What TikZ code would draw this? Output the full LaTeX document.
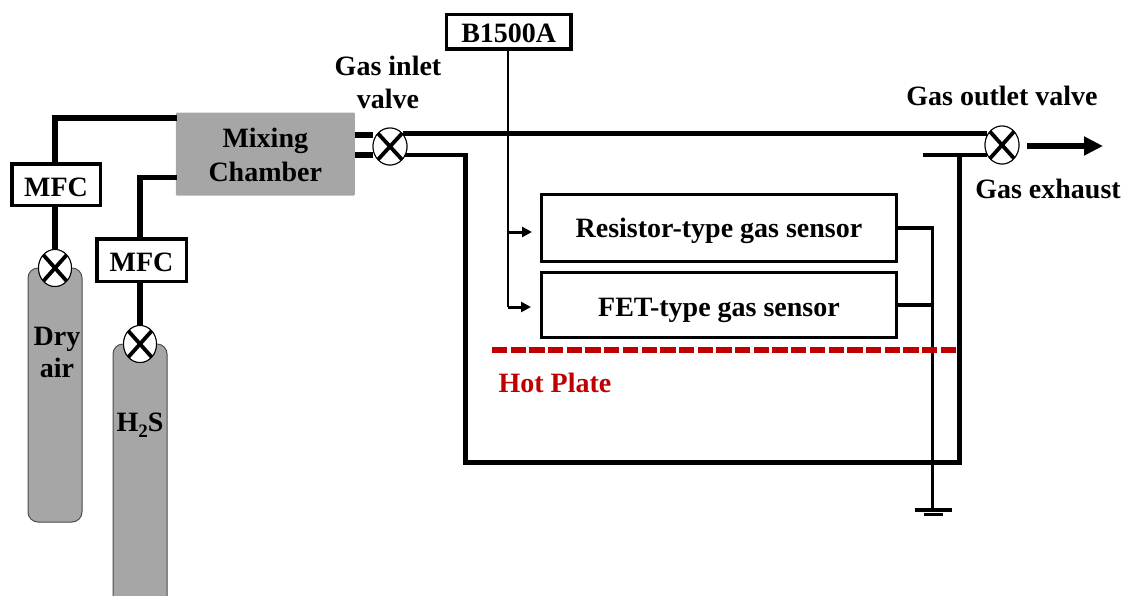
\documentclass[tikz,border=0pt]{standalone}
\usepackage{fontspec}
\setmainfont{Liberation Serif}
\usetikzlibrary{arrows.meta,shapes.geometric,calc}
\definecolor{gasgray}{HTML}{A6A6A6}
\definecolor{hotred}{HTML}{C00000}
\tikzset{
  x=1pt,y=-1pt,
  lbl/.style={font=\fontsize{28}{31}\selectfont\bfseries,align=center,inner sep=0pt,text=black},
  txtbox/.style={lbl,draw=black,line width=3.4pt,fill=white,minimum width=#1,inner sep=0pt},
  valve/.style={ellipse,draw=black,line width=1pt,fill=white,minimum width=33pt,minimum height=37pt,inner sep=0pt,
    path picture={
      \draw[line width=3.8pt,black] ($(path picture bounding box.north west)!0.13!(path picture bounding box.south east)$)--($(path picture bounding box.north west)!0.87!(path picture bounding box.south east)$);
      \draw[line width=3.8pt,black] ($(path picture bounding box.north east)!0.13!(path picture bounding box.south west)$)--($(path picture bounding box.north east)!0.87!(path picture bounding box.south west)$);
    }},
  pipe/.style={draw=black,line width=4.7pt,line join=miter},
  feedpipe/.style={draw=black,line width=5.4pt,line join=miter},
  wire/.style={draw=black,line width=3.2pt,line join=miter},
  thinwire/.style={draw=black,line width=2.7pt,line join=miter},
  cyl/.style={draw=black!70,line width=1pt,fill=gasgray,rounded corners=10pt},
  probe/.style={draw=black,line width=3pt,-{Triangle[length=10pt,width=10pt]}},
}
\begin{document}
\begin{tikzpicture}
\useasboundingbox (0,0) rectangle (1124,595);
% cylinders
\begin{scope}
\clip (0,0) rectangle (1124,595);
\draw[cyl] (28,268) rectangle (82,522);
\draw[cyl] (113,344) rectangle (167,610);
\end{scope}
\node[lbl] (dry) at (57,352) {Dry\\[1pt]air};
\node[lbl] (h2s) at (140,425) {H\raisebox{-6pt}{\fontsize{19}{19}\selectfont 2}S};
% chamber
\node[lbl,fill=gasgray,rounded corners=1pt,minimum width=179pt,minimum height=83pt] (mix) at (265.3,154) {\rule{0pt}{22pt}Mixing\\[3pt]Chamber};
% MFC
\node[txtbox=88.4pt,minimum height=41.4pt,text height=24pt] (mfc1) at (56,184.5) {MFC};
\node[txtbox=89.4pt,minimum height=42.4pt,text height=24pt] (mfc2) at (141.5,260) {MFC};
% valves
\node[valve] (v1) at (55,268) {};
\node[valve] (v2) at (140,344) {};
\node[valve,minimum width=34pt,minimum height=37pt] (vin) at (390,146.5) {};
\node[valve,minimum width=34pt,minimum height=38pt] (vout) at (1002,145) {};
% boxes
\node[txtbox=124.5pt,minimum height=34.7pt,text height=21.5pt] (b) at (508.7,31.8) {B1500A};
\node[txtbox=355pt,minimum height=66.6pt,text height=18pt,text depth=0pt] (res) at (719,228) {Resistor-type gas sensor};
\node[txtbox=355pt,minimum height=65pt,text height=22pt,text depth=0pt] (fet) at (719,305) {FET-type gas sensor};
% free ends
\coordinate (m1) at (177,118);
\coordinate (m2) at (177,177.5);
\coordinate (mo1) at (355,135);
\coordinate (mo2) at (355,155);
\coordinate (vi1) at (373,135);
\coordinate (vi2) at (373,155);
\coordinate (vi3) at (403,133.5);
\coordinate (vi4) at (403,155);
\coordinate (vo1) at (987,133.5);
\coordinate (vo2) at (987,155);
\coordinate (tee) at (923,155);
\coordinate (c1) at (465.3,155);
\coordinate (c2) at (465.3,462.3);
\coordinate (c3) at (959.5,462.3);
\coordinate (c4) at (959.5,155);
\coordinate (a1) at (1027,146);
\coordinate (a2) at (1103,146);
\coordinate (pr) at (508,232);
\coordinate (prt) at (532,232);
\coordinate (pf) at (508,307);
\coordinate (pft) at (531,307);
\coordinate (j1) at (932.8,228);
\coordinate (j2) at (932.8,305);
\coordinate (gnd) at (932.8,510);
\coordinate (g1) at (915,510);
\coordinate (g2) at (952.3,510);
\coordinate (g3) at (924.3,514.7);
\coordinate (g4) at (943.3,514.7);
\coordinate (h1) at (490,349.8);
\coordinate (h2) at (956,349.8);
% pipes
\draw[feedpipe] (m1) -- (m1 -| v1) -- (v1 |- mfc1.north);
\draw[feedpipe] (m2) -- (m2 -| v2) -- (v2 |- mfc2.north);
\draw[feedpipe] (v1 |- mfc1.south) -- (v1.north);
\draw[feedpipe] (v2 |- mfc2.south) -- (v2.north);
\draw[feedpipe] (mo1) -- (vi1);
\draw[feedpipe] (mo2) -- (vi2);
\draw[pipe] (vi3) -- (vo1);
\draw[pipe] (vi4) -- (c1) -- (c2) -- (c3) -- (c4);
\draw[pipe] (tee) -- (vo2);
\draw[draw=black,line width=6.5pt,-{Triangle[length=19pt,width=18pt]}] (a1) -- (a2);
% measurement wires
\draw[thinwire] (b.south -| pr) -- (pf);
\draw[probe] (pr) -- (prt);
\draw[probe] (pf) -- (pft);
\draw[wire] (res.east |- j1) -- (j1) -- (gnd);
\draw[wire] (fet.east |- j2) -- (j2);
\draw[wire] (g1) -- (g2);
\draw[wire] (g3) -- (g4);
% hot plate
\draw[draw=hotred,line width=5.5pt,dash pattern=on 15.3pt off 3.4pt] (h2) -- (h1);
% valves on top of pipes
\node[valve] at (v1) {};
\node[valve] at (v2) {};
\node[valve,minimum width=34pt,minimum height=37pt] at (vin) {};
\node[valve,minimum width=34pt,minimum height=38pt] at (vout) {};
% labels
\node[lbl] (inl) at (388,82) {Gas inlet\\[2pt]valve};
\node[lbl] (outl) at (1002,96) {Gas outlet valve};
\node[lbl] (exh) at (1048,189) {Gas exhaust};
\node[lbl,text=hotred] (hp) at (555,383) {Hot Plate};
\end{tikzpicture}
\end{document}
